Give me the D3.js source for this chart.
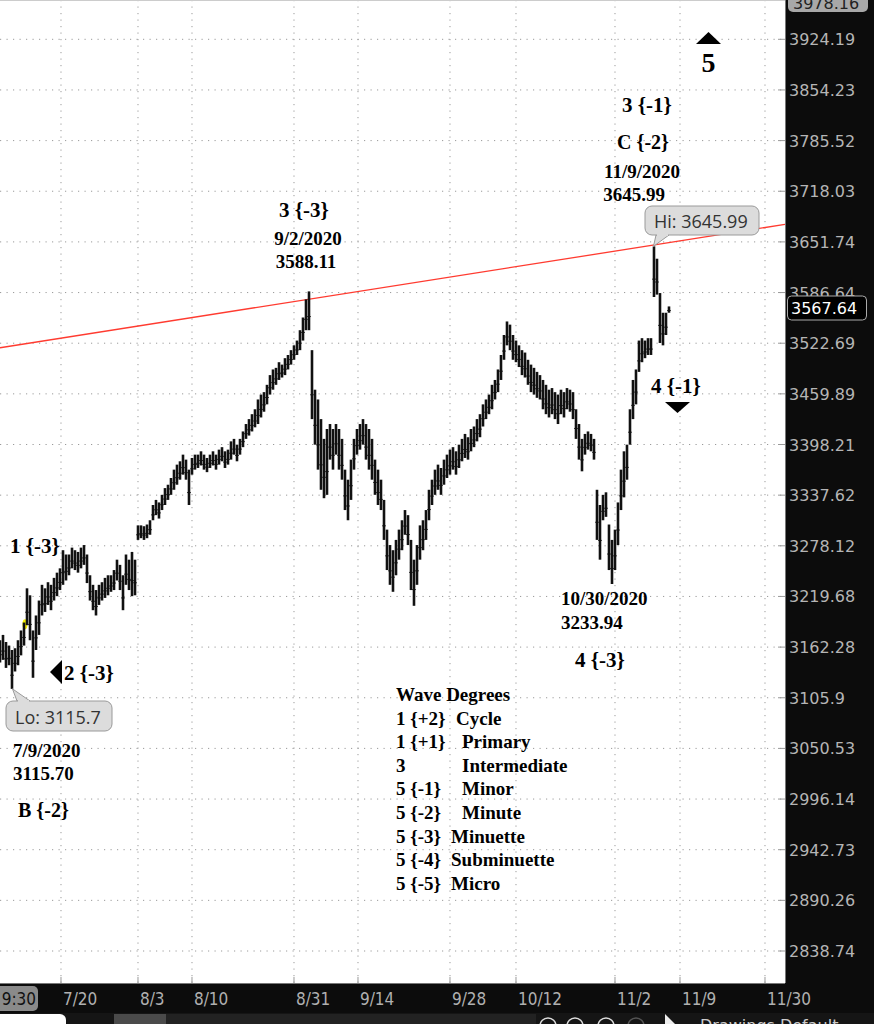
<!DOCTYPE html>
<html><head><meta charset="utf-8">
<script src="https://cdn.jsdelivr.net/npm/d3@7"></script>
<style>body{margin:0;background:#fff;} svg{display:block}</style>
</head><body>
<svg id="c" width="874" height="1024"></svg>
<script>
// ---- data ----
const barHigh = [
3170,3176,3168,3164,3159,3161,3170,3181,3190,3229,
3221,3181,3198,3215,3233,3229,3236,3233,3241,3247,
3252,3273,3268,3268,3276,3273,3271,3276,3279,3268,
3244,3233,3227,3233,3236,3241,3244,3244,3250,3262,
3256,3244,3268,3262,3271,3262,3302,3302,3301,3303,
3308,3326,3332,3329,3338,3346,3350,3358,3368,3374,
3378,3386,3380,3368,3382,3386,3386,3390,3386,3382,
3386,3390,3386,3392,3395,3390,3392,3402,3405,3398,
3405,3414,3423,3429,3435,3441,3453,3459,3462,3471,
3483,3490,3492,3499,3496,3504,3508,3514,3520,3526,
3539,3555,3578,3588.11,3514,3465,3453,3429,3405,3417,
3423,3417,3423,3417,3405,3368,3356,3380,3405,3417,
3423,3429,3423,3417,3405,3380,3368,3356,3332,3297,
3279,3273,3285,3297,3308,3320,3314,3285,3262,3279,
3302,3308,3320,3344,3356,3368,3374,3370,3380,3386,
3392,3395,3390,3398,3405,3411,3407,3417,3420,3429,
3435,3447,3453,3459,3471,3477,3490,3508,3533,3550,
3546,3533,3526,3520,3514,3511,3502,3496,3492,3487,
3483,3477,3471,3465,3467,3462,3459,3465,3462,3467,
3465,3462,3441,3423,3405,3411,3414,3411,3405,3344,
3326,3338,3341,3303,3285,3297,3329,3368,3390,3398,
3441,3477,3490,3526,3529,3526,3529,3529,3645.99,3630,
3586,3561,3561,3569];
const barLow = [
3145,3148,3139,3142,3115.7,3135,3142,3153,3164,3187,
3170,3128,3159,3176,3198,3202,3210,3204,3215,3220,
3227,3233,3238,3244,3252,3250,3247,3252,3256,3235,
3215,3204,3198,3210,3215,3218,3221,3225,3227,3238,
3227,3204,3233,3227,3220,3221,3285,3287,3285,3287,
3291,3308,3314,3310,3320,3326,3332,3338,3344,3350,
3356,3362,3356,3326,3362,3368,3370,3373,3368,3365,
3370,3373,3368,3374,3378,3370,3374,3380,3386,3378,
3386,3395,3405,3409,3414,3419,3423,3431,3438,3447,
3459,3465,3471,3477,3480,3483,3490,3496,3502,3508,
3514,3526,3539,3539,3429,3398,3368,3344,3334,3338,
3380,3368,3386,3368,3356,3320,3308,3332,3368,3386,
3392,3398,3380,3368,3356,3338,3326,3320,3285,3250,
3233,3225,3244,3262,3273,3291,3279,3227,3209,3233,
3262,3273,3285,3308,3326,3338,3344,3338,3350,3358,
3362,3368,3362,3370,3378,3382,3380,3390,3395,3402,
3407,3420,3429,3435,3441,3453,3462,3477,3502,3520,
3514,3502,3499,3493,3483,3480,3471,3462,3459,3455,
3453,3441,3435,3431,3435,3429,3423,3435,3431,3441,
3438,3429,3405,3380,3366,3386,3392,3390,3380,3285,
3262,3308,3312,3250,3233.94,3250,3279,3320,3335,3356,
3398,3429,3447,3487,3499,3504,3508,3508,3581,3584,
3523,3520,3533,3561];
const priceTicks = [3924.19,3854.23,3785.52,3718.03,3651.74,3586.64,3522.69,3459.89,3398.21,3337.62,3278.12,3219.68,3162.28,3105.9,3050.53,2996.14,2942.73,2890.26,2838.74];
const dateTickLabels = ["7/20","8/3","8/10","8/31","9/14","9/28","10/12","11/2","11/9","11/30"];
const dateTickBars = [20.33,46,64,98,119.33,150,172,205,226.67,255];
const trendBars = [0, 261.67];
const trendPrices = [3517, 3674.5];
const lastPrice = 3567.64, topPrice = 3978.16;
const hiBar = 218, hiPrice = 3645.99, loBar = 4, loPrice = 3115.7;
const highlightBar = 8, highlightPrice = 3188;
const legendLeft = ["Wave Degrees","1 {+2}","1 {+1}","3","5 {-1}","5 {-2}","5 {-3}","5 {-4}","5 {-5}"];
const legendRight = ["","Cycle","Primary","Intermediate","Minor","Minute","Minuette","Subminuette","Micro"];

// ---- layout ----
const plotR = 785, plotB = 983;
const svg = d3.select("#c");
const x = d3.scaleLinear().domain([0, 261.67]).range([0, plotR]);
const y = d3.scaleLog().domain([3924.19, 2838.74]).range([39.3, 951]);
const serif = "'Liberation Serif','Times New Roman',serif";

svg.append("rect").attr("width",874).attr("height",1024).attr("fill","#fff");

const plot = svg.append("g");
plot.append("clipPath").attr("id","pc").append("rect").attr("width",plotR).attr("height",plotB);
const pg = plot.append("g").attr("clip-path","url(#pc)");

// grid
pg.selectAll("line.hg").data(priceTicks).join("line")
  .attr("x1",0).attr("x2",plotR).attr("y1",d=>y(d)).attr("y2",d=>y(d))
  .attr("stroke","#9a9a9a").attr("stroke-dasharray","1.2,5.3");
pg.selectAll("line.vg").data(dateTickBars).join("line")
  .attr("x1",d=>x(d)).attr("x2",d=>x(d)).attr("y1",0).attr("y2",plotB)
  .attr("stroke","#9a9a9a").attr("stroke-dasharray","1.2,5.3");

// trend line
pg.append("line")
  .attr("x1",x(trendBars[0])).attr("y1",y(trendPrices[0]))
  .attr("x2",x(trendBars[1])).attr("y2",y(trendPrices[1]))
  .attr("stroke","#ff3b30").attr("stroke-width",1.3);

// highlight
pg.append("ellipse").attr("cx",x(highlightBar)+1).attr("cy",y(highlightPrice))
  .attr("rx",2.5).attr("ry",5).attr("fill","#f5f000");

// bars
const bars = barHigh.map((h,i)=>({i,h,l:barLow[i]}));
pg.selectAll("line.bar").data(bars).join("line")
  .attr("x1",d=>x(d.i)).attr("x2",d=>x(d.i))
  .attr("y1",d=>y(d.h)).attr("y2",d=>y(d.l))
  .attr("stroke","#111").attr("stroke-width",2.6);
pg.selectAll("line.bt").data(bars).join("line")
  .attr("x1",d=>x(d.i)-1.8).attr("x2",d=>x(d.i)+1.8)
  .attr("y1",d=>y(d.h*0.35+d.l*0.65)).attr("y2",d=>y(d.h*0.35+d.l*0.65))
  .attr("stroke","#111").attr("stroke-width",1);

// right axis ticks
svg.selectAll("line.yt").data(priceTicks).join("line")
  .attr("x1",778).attr("x2",plotR).attr("y1",d=>y(d)).attr("y2",d=>y(d))
  .attr("stroke","#999");
// bottom ticks
svg.selectAll("line.xt").data(dateTickBars).join("line")
  .attr("x1",d=>x(d)).attr("x2",d=>x(d)).attr("y1",plotB-6).attr("y2",plotB)
  .attr("stroke","#999");

// callouts
function callout(bx,by,bw,bh,tip,px,py,label){
  const g = svg.append("g");
  g.append("path").attr("d",`M${tip[0]},${tip[1]} L${tip[2]},${tip[3]} L${px},${py} Z`)
    .attr("fill","#dcdcdc").attr("stroke","#9a9a9a");
  g.append("rect").attr("x",bx).attr("y",by).attr("width",bw).attr("height",bh).attr("rx",7)
    .attr("fill","#dcdcdc").attr("stroke","#9a9a9a");
  g.append("path").attr("d",`M${tip[0]+1},${tip[1]} L${tip[2]-1},${tip[3]}`).attr("stroke","#dcdcdc").attr("stroke-width",2);
  g.append("text").attr("x",bx+9).attr("y",by+bh-7).text(label)
    .attr("font-family","'Open Sans',sans-serif").attr("font-size",18).attr("fill","#333");
}
callout(6,701,106,30,[17,701,30,701],x(loBar)+0.5,y(loPrice),"Lo: "+loPrice);
callout(645,206,114,29,[656,235,669,235],x(hiBar)-0.5,y(hiPrice),"Hi: "+hiPrice);

// annotations
function t(txt,xx,yy,size,anchor){
  svg.append("text").attr("x",xx).attr("y",yy).text(txt)
    .attr("font-family",serif).attr("font-weight","bold").attr("font-size",size)
    .attr("text-anchor",anchor||"middle").attr("fill","#000");
}
svg.append("path").attr("d","M696,44 L721,44 L708.5,32 Z").attr("fill","#000");
t("5",708.5,72,28);
t("3 {-1}",647,112,21);
t("C {-2}",643,149,20);
t("11/9/2020",642,178,19);
t("3645.99",634,201,19);
t("3 {-3}",304,217,21);
t("9/2/2020",308,245,19);
t("3588.11",306,268,19);
t("1 {-3}",10,553,21,"start");
svg.append("path").attr("d","M50,672 L62,660 L62,684 Z").attr("fill","#000");
t("2 {-3}",64,680,21,"start");
t("7/9/2020",13,757,19,"start");
t("3115.70",13,780,19,"start");
t("B {-2}",18,817,20,"start");
t("4 {-1}",651,393,21,"start");
svg.append("path").attr("d","M665,402 L690,402 L677.5,413 Z").attr("fill","#000");
t("10/30/2020",561,605,19,"start");
t("3233.94",561,629,19,"start");
t("4 {-3}",600,667,21);

// legend
const legRight = [0,456,462,462,462,462,451,451,451];
legendLeft.forEach((s,i)=>t(s,396,701+i*23.6,19,"start"));
legendRight.forEach((s,i)=>{ if(s) t(s,legRight[i],701+i*23.6,19,"start"); });

// plot frame lines
svg.append("line").attr("x1",0).attr("x2",plotR).attr("y1",0.5).attr("y2",0.5).attr("stroke","#ccc");

// right axis panel
svg.append("rect").attr("x",plotR).attr("y",0).attr("width",874-plotR).attr("height",1024).attr("fill","#0c0c0c");
svg.append("line").attr("x1",plotR+0.5).attr("x2",plotR+0.5).attr("y1",0).attr("y2",plotB).attr("stroke","#777");
svg.selectAll("text.yl").data(priceTicks).join("text")
  .attr("x",789).attr("y",d=>y(d)+6).text(d=>String(d))
  .attr("font-family","'DejaVu Sans',sans-serif").attr("font-size",16).attr("fill","#b5b5b5");
// top label
svg.append("rect").attr("x",788).attr("y",-12).attr("width",80).attr("height",24).attr("rx",5).attr("fill","#a8a8a8");
svg.append("text").attr("x",793).attr("y",y(topPrice)+8).text(topPrice.toFixed(2))
  .attr("font-family","'DejaVu Sans',sans-serif").attr("font-size",16).attr("fill","#222");
// last price label
svg.append("rect").attr("x",787.5).attr("y",y(lastPrice)-11.5).attr("width",79).attr("height",24).attr("rx",4)
  .attr("fill","#000").attr("stroke","#aaa");
svg.append("text").attr("x",791).attr("y",y(lastPrice)+6.5).text(lastPrice.toFixed(2))
  .attr("font-family","'DejaVu Sans',sans-serif").attr("font-size",16).attr("fill","#fff");

// bottom axis panel
svg.append("rect").attr("x",0).attr("y",plotB).attr("width",874).attr("height",1024-plotB).attr("fill","#0c0c0c");
svg.append("line").attr("x1",0).attr("x2",plotR).attr("y1",plotB+0.5).attr("y2",plotB+0.5).attr("stroke","#777");
svg.selectAll("text.xl").data(dateTickLabels).join("text")
  .attr("x",(d,i)=>x(dateTickBars[i])+2).attr("y",1005).text(d=>d)
  .attr("font-family","'DejaVu Sans Condensed','DejaVu Sans',sans-serif").attr("font-size",17).attr("fill","#b0b0b0");
svg.append("rect").attr("x",-8).attr("y",986).attr("width",46).attr("height",25).attr("rx",5).attr("fill","#8a8a8a");
svg.append("text").attr("x",36).attr("y",1005).attr("text-anchor","end").text("9:30")
  .attr("font-family","'DejaVu Sans Condensed','DejaVu Sans',sans-serif").attr("font-size",17).attr("fill","#111");

// bottom toolbar
svg.append("rect").attr("x",0).attr("y",1013).attr("width",874).attr("height",11).attr("fill","#151515");
svg.append("rect").attr("x",-6).attr("y",1014).attr("width",72).attr("height",16).attr("rx",6).attr("fill","#fff");
svg.append("rect").attr("x",114).attr("y",1014).attr("width",52).attr("height",12).attr("fill","#4a4a4a");
svg.append("rect").attr("x",166).attr("y",1014).attr("width",370).attr("height",12).attr("fill","#222");
[548,575,606,636].forEach(cx=>svg.append("circle").attr("cx",cx).attr("cy",1026).attr("r",8).attr("fill","none").attr("stroke",cx===636?"#555":"#ddd").attr("stroke-width",1.5));
svg.append("path").attr("d","M665,1014 L675,1024 L665,1024 Z").attr("fill","#eee");
svg.append("text").attr("x",700).attr("y",1031).text("Drawings   Default")
  .attr("font-family","'DejaVu Sans',sans-serif").attr("font-size",16).attr("fill","#ccc");
</script>
</body></html>
